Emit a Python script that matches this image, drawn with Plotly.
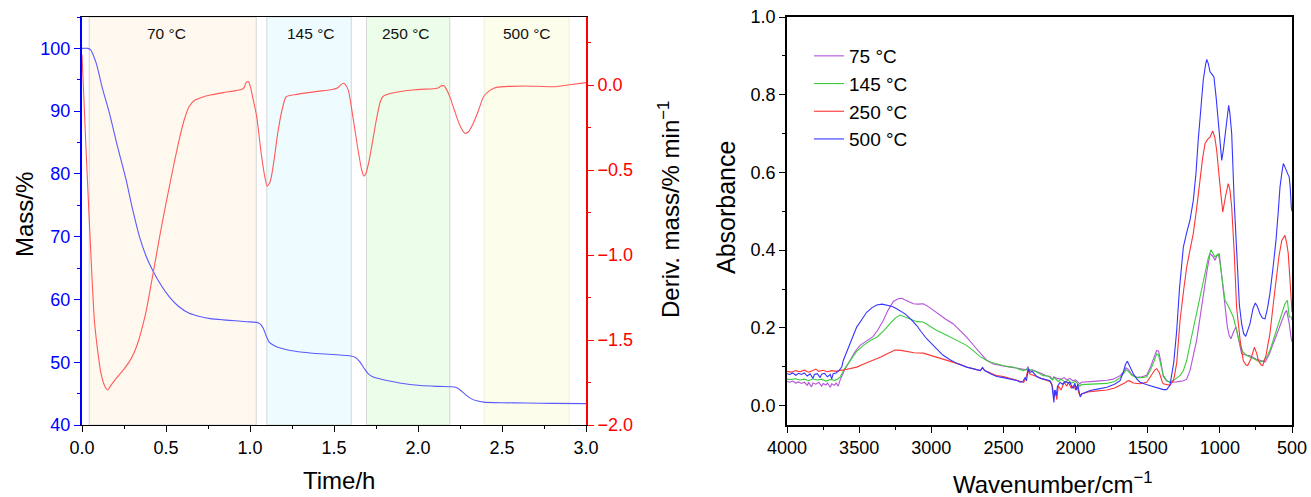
import plotly.graph_objects as go

# ---------------- TGA / DTG (left panel) ----------------
TIME_H = [0, 0.035, 0.05, 0.085, 0.12, 0.164, 0.21, 0.263, 0.30, 0.342, 0.38, 0.421, 0.47,
          0.52, 0.57, 0.638, 0.70, 0.764, 0.84, 0.914, 0.98, 1.04, 1.06, 1.077, 1.095, 1.114,
          1.14, 1.165, 1.22, 1.315, 1.42, 1.515, 1.6, 1.625, 1.653, 1.68, 1.703, 1.73, 1.766,
          1.83, 1.89, 2.016, 2.12, 2.216, 2.235, 2.254, 2.285, 2.316, 2.35, 2.39, 2.5, 2.642,
          2.8, 3.0]
MASS_PCT = [100, 100, 99.8, 97.6, 93.8, 89.6, 84.5, 79.0, 74.5, 70.0, 67.0, 64.6, 62.3,
            60.4, 59.0, 57.8, 57.3, 56.95, 56.75, 56.6, 56.45, 56.35, 56.1, 55.5, 54.3, 53.2,
            52.7, 52.4, 52.0, 51.6, 51.35, 51.2, 51.0, 50.8, 50.1, 49.0, 48.2, 47.7, 47.4,
            47.0, 46.7, 46.3, 46.15, 46.05, 45.9, 45.5, 44.8, 44.2, 43.85, 43.65, 43.55, 43.5,
            43.45, 43.4]

DTG_TIME_H = [0, 0.01, 0.025, 0.046, 0.075, 0.11, 0.135, 0.154, 0.17, 0.2, 0.243, 0.28,
              0.31, 0.338, 0.36, 0.382, 0.41, 0.441, 0.47, 0.50, 0.54, 0.579, 0.61, 0.638, 0.67,
              0.72, 0.764, 0.84, 0.914, 0.952, 0.965, 0.977, 0.99, 1.002, 1.02, 1.04, 1.069,
              1.09, 1.102, 1.115, 1.127, 1.145, 1.165, 1.19, 1.215, 1.265, 1.39, 1.49, 1.52,
              1.54, 1.555, 1.565, 1.585, 1.603, 1.64, 1.665, 1.678, 1.69, 1.71, 1.73, 1.753,
              1.775, 1.79, 1.84, 1.966, 2.09, 2.12, 2.136, 2.155, 2.166, 2.19, 2.216, 2.25,
              2.279, 2.3, 2.329, 2.36, 2.39, 2.43, 2.467, 2.55, 2.642, 2.817, 2.89, 3.0]
DTG_RATE = [0.18, -0.05, -0.4, -0.853, -1.40, -1.68, -1.77, -1.794, -1.77, -1.73, -1.68,
            -1.63, -1.575, -1.50, -1.42, -1.33, -1.18, -1.01, -0.85, -0.696, -0.5, -0.32,
            -0.2, -0.127, -0.09, -0.07, -0.059, -0.045, -0.033, -0.025, -0.015, 0.015, 0.02,
            -0.01, -0.09, -0.186, -0.42, -0.55, -0.595, -0.58, -0.54, -0.43, -0.284, -0.15,
            -0.069, -0.057, -0.039, -0.026, -0.018, 0.0, 0.01, 0.005, -0.03, -0.127, -0.363,
            -0.5, -0.535, -0.52, -0.44, -0.33, -0.2, -0.1, -0.069, -0.049, -0.029, -0.022,
            -0.018, -0.006, -0.005, -0.02, -0.07, -0.147, -0.24, -0.284, -0.275, -0.225,
            -0.15, -0.069, -0.03, -0.014, -0.008, -0.006, -0.01, 0.0, 0.014]

# isothermal holding windows
STAGE_LABELS = ["70 °C", "145 °C", "250 °C", "500 °C"]
STAGE_START = [0.043, 1.10, 1.693, 2.394]
STAGE_END = [1.037, 1.603, 2.189, 2.90]
STAGE_LABEL_X = [0.50, 1.365, 1.93, 2.65]
STAGE_FILL = ["#fff8ee", "#eefcff", "#ecfde9", "#fdfdec"]
STAGE_EDGE = ["#d4d4d4", "#d4d8da", "#d0d8d0", "#f0f0dc"]

# ---------------- FTIR spectra (right panel) ----------------
WN_75 = [4000, 3980, 3960, 3940, 3920, 3900, 3880, 3860, 3850, 3830, 3820, 3800, 3780, 3760,
         3750, 3730, 3720, 3700, 3690, 3670, 3660, 3645, 3630, 3600, 3563, 3530, 3494, 3450,
         3402, 3370, 3333, 3300, 3263, 3230, 3205, 3170, 3124, 3090, 3055, 3010, 2962, 2900,
         2847, 2800, 2755, 2700, 2662, 2620, 2570, 2500, 2455, 2400, 2362, 2340, 2330, 2320,
         2300, 2270, 2240, 2200, 2177, 2160, 2150, 2130, 2100, 2080, 2060, 2040, 2020, 2000,
         1985, 1970, 1960, 1900, 1850, 1784, 1740, 1692, 1665, 1650, 1635, 1610, 1577, 1540,
         1507, 1480, 1455, 1438, 1425, 1410, 1392, 1370, 1346, 1300, 1253, 1230, 1207, 1185,
         1161, 1138, 1115, 1090, 1068, 1050, 1034, 1020, 1004, 990, 976, 960, 948, 935, 923,
         905, 888, 870, 849, 820, 791, 750, 722, 700, 687, 660, 630, 600, 571, 550, 537, 525,
         519, 510, 502]
A_75 = [0.062, 0.060, 0.063, 0.058, 0.061, 0.057, 0.060, 0.052, 0.059, 0.048, 0.058, 0.055,
        0.060, 0.050, 0.057, 0.053, 0.058, 0.047, 0.056, 0.052, 0.058, 0.050, 0.068, 0.092,
        0.116, 0.138, 0.155, 0.166, 0.178, 0.195, 0.219, 0.245, 0.268, 0.275, 0.276, 0.270,
        0.262, 0.261, 0.262, 0.252, 0.238, 0.222, 0.210, 0.192, 0.176, 0.152, 0.137, 0.118,
        0.107, 0.101, 0.099, 0.096, 0.094, 0.092, 0.100, 0.090, 0.092, 0.088, 0.083, 0.076,
        0.075, 0.068, 0.074, 0.070, 0.068, 0.072, 0.066, 0.070, 0.064, 0.066, 0.060, 0.056,
        0.060, 0.061, 0.063, 0.065, 0.068, 0.077, 0.088, 0.097, 0.093, 0.080, 0.073, 0.074,
        0.078, 0.100, 0.128, 0.142, 0.140, 0.115, 0.075, 0.064, 0.060, 0.061, 0.064, 0.068,
        0.090, 0.125, 0.168, 0.225, 0.288, 0.345, 0.391, 0.385, 0.374, 0.385, 0.391, 0.345,
        0.288, 0.240, 0.202, 0.180, 0.172, 0.190, 0.202, 0.170, 0.133, 0.130, 0.128, 0.120,
        0.116, 0.112, 0.112, 0.130, 0.159, 0.190, 0.219, 0.238, 0.245, 0.225, 0.211, 0.185,
        0.165]

WN_145 = [4000, 3970, 3940, 3910, 3880, 3850, 3820, 3790, 3760, 3730, 3700, 3670, 3650, 3633,
          3600, 3563, 3520, 3471, 3420, 3378, 3330, 3286, 3250, 3217, 3180, 3147, 3100, 3055,
          3010, 2962, 2900, 2847, 2800, 2755, 2700, 2662, 2600, 2547, 2490, 2432, 2362, 2330,
          2316, 2280, 2224, 2190, 2160, 2150, 2120, 2100, 2070, 2050, 2030, 2000, 1985, 1970,
          1960, 1900, 1850, 1784, 1730, 1692, 1665, 1650, 1635, 1610, 1577, 1540, 1507, 1480,
          1455, 1438, 1425, 1410, 1392, 1370, 1346, 1310, 1276, 1253, 1230, 1200, 1161, 1130,
          1103, 1080, 1061, 1045, 1034, 1020, 1011, 1000, 987, 975, 964, 940, 907, 885, 861,
          840, 814, 768, 722, 700, 676, 650, 630, 600, 583, 560, 549, 532, 519, 505, 500]
A_145 = [0.068, 0.067, 0.069, 0.066, 0.068, 0.064, 0.069, 0.066, 0.068, 0.063, 0.067, 0.065,
         0.068, 0.073, 0.095, 0.116, 0.138, 0.155, 0.168, 0.176, 0.192, 0.211, 0.225, 0.233,
         0.228, 0.222, 0.216, 0.215, 0.205, 0.193, 0.182, 0.172, 0.164, 0.155, 0.138, 0.126,
         0.113, 0.107, 0.102, 0.099, 0.090, 0.095, 0.092, 0.088, 0.077, 0.076, 0.066, 0.072,
         0.062, 0.068, 0.060, 0.066, 0.058, 0.062, 0.055, 0.050, 0.054, 0.055, 0.056, 0.057,
         0.062, 0.072, 0.084, 0.092, 0.088, 0.078, 0.072, 0.072, 0.074, 0.092, 0.115, 0.133,
         0.130, 0.105, 0.078, 0.065, 0.060, 0.068, 0.077, 0.090, 0.116, 0.170, 0.236, 0.290,
         0.339, 0.380, 0.401, 0.390, 0.382, 0.388, 0.391, 0.370, 0.339, 0.300, 0.271, 0.255,
         0.228, 0.195, 0.159, 0.138, 0.129, 0.121, 0.112, 0.115, 0.124, 0.145, 0.168, 0.200,
         0.219, 0.245, 0.262, 0.271, 0.228, 0.228, 0.220]

WN_250 = [4000, 3970, 3940, 3910, 3880, 3850, 3820, 3800, 3780, 3750, 3720, 3690, 3660, 3640,
          3600, 3560, 3517, 3460, 3402, 3350, 3309, 3270, 3251, 3210, 3170, 3120, 3055, 3010,
          2962, 2920, 2870, 2800, 2755, 2700, 2660, 2645, 2630, 2600, 2547, 2500, 2455, 2400,
          2385, 2360, 2345, 2330, 2320, 2300, 2270, 2240, 2200, 2177, 2160, 2150, 2140, 2130,
          2120, 2100, 2080, 2060, 2050, 2030, 2010, 2000, 1990, 1975, 1965, 1958, 1900, 1850,
          1784, 1730, 1692, 1660, 1640, 1628, 1600, 1553, 1507, 1470, 1450, 1438, 1420, 1400,
          1392, 1346, 1320, 1299, 1276, 1250, 1230, 1207, 1184, 1160, 1138, 1120, 1103, 1085,
          1068, 1050, 1035, 1022, 1000, 980, 960, 942, 930, 918, 900, 884, 860, 838, 820, 807,
          785, 761, 745, 733, 715, 703, 680, 653, 630, 606, 590, 571, 549, 535, 526, 515, 505,
          500]
A_250 = [0.088, 0.086, 0.090, 0.087, 0.091, 0.086, 0.090, 0.094, 0.088, 0.091, 0.087, 0.090,
         0.088, 0.090, 0.092, 0.096, 0.099, 0.108, 0.116, 0.125, 0.133, 0.140, 0.143, 0.142,
         0.140, 0.136, 0.135, 0.130, 0.123, 0.118, 0.114, 0.106, 0.099, 0.093, 0.090, 0.097,
         0.090, 0.086, 0.077, 0.075, 0.070, 0.064, 0.062, 0.060, 0.070, 0.092, 0.082, 0.080,
         0.075, 0.070, 0.064, 0.062, 0.050, 0.020, 0.040, 0.015, 0.050, 0.040, 0.060, 0.050,
         0.060, 0.045, 0.052, 0.040, 0.050, 0.030, 0.025, 0.030, 0.036, 0.038, 0.040, 0.045,
         0.051, 0.058, 0.063, 0.064, 0.058, 0.056, 0.060, 0.080, 0.092, 0.095, 0.085, 0.062,
         0.056, 0.052, 0.066, 0.110, 0.219, 0.300, 0.356, 0.400, 0.443, 0.510, 0.580, 0.635,
         0.674, 0.685, 0.691, 0.707, 0.690, 0.657, 0.570, 0.498, 0.540, 0.571, 0.555, 0.511,
         0.390, 0.253, 0.170, 0.116, 0.105, 0.103, 0.120, 0.150, 0.135, 0.116, 0.105, 0.103,
         0.130, 0.185, 0.260, 0.339, 0.385, 0.425, 0.438, 0.415, 0.391, 0.330, 0.253, 0.240]

WN_500 = [4000, 3980, 3960, 3940, 3920, 3900, 3880, 3860, 3840, 3820, 3810, 3790, 3770, 3760,
          3740, 3720, 3700, 3690, 3680, 3660, 3640, 3620, 3610, 3585, 3563, 3540, 3517, 3480,
          3448, 3410, 3378, 3340, 3309, 3270, 3240, 3182, 3140, 3101, 3070, 3032, 3000, 2962,
          2920, 2870, 2820, 2755, 2700, 2660, 2645, 2630, 2590, 2547, 2500, 2455, 2400, 2385,
          2365, 2350, 2340, 2328, 2315, 2300, 2270, 2240, 2200, 2177, 2165, 2155, 2150, 2145,
          2135, 2125, 2108, 2090, 2070, 2050, 2039, 2025, 2016, 2005, 1995, 1985, 1975, 1968,
          1958, 1900, 1840, 1784, 1730, 1692, 1670, 1655, 1641, 1625, 1600, 1575, 1553, 1510,
          1461, 1420, 1392, 1369, 1346, 1320, 1299, 1280, 1253, 1230, 1207, 1184, 1165, 1150,
          1130, 1115, 1100, 1091, 1080, 1068, 1055, 1041, 1025, 1011, 998, 987, 975, 957, 946,
          939, 930, 918, 900, 879, 865, 849, 835, 821, 805, 791, 770, 754, 740, 722, 705, 687,
          670, 653, 630, 611, 595, 583, 570, 560, 550, 537, 528, 519, 512, 505, 500]
A_500 = [0.082, 0.080, 0.084, 0.078, 0.083, 0.080, 0.084, 0.076, 0.082, 0.070, 0.080, 0.082,
         0.072, 0.081, 0.083, 0.074, 0.080, 0.068, 0.082, 0.084, 0.090, 0.100, 0.116, 0.138,
         0.159, 0.180, 0.202, 0.222, 0.240, 0.252, 0.259, 0.261, 0.259, 0.255, 0.249, 0.236,
         0.222, 0.206, 0.190, 0.172, 0.160, 0.146, 0.130, 0.118, 0.108, 0.099, 0.093, 0.090,
         0.098, 0.090, 0.082, 0.075, 0.072, 0.069, 0.064, 0.060, 0.062, 0.072, 0.064, 0.095,
         0.085, 0.088, 0.075, 0.070, 0.066, 0.064, 0.055, 0.030, 0.008, 0.040, 0.025, 0.050,
         0.060, 0.055, 0.062, 0.058, 0.060, 0.048, 0.044, 0.058, 0.040, 0.055, 0.030, 0.022,
         0.030, 0.039, 0.043, 0.047, 0.055, 0.064, 0.085, 0.105, 0.114, 0.100, 0.082, 0.068,
         0.060, 0.054, 0.049, 0.045, 0.041, 0.041, 0.052, 0.110, 0.193, 0.300, 0.408, 0.445,
         0.477, 0.528, 0.600, 0.683, 0.770, 0.838, 0.875, 0.891, 0.880, 0.859, 0.853, 0.846,
         0.790, 0.726, 0.660, 0.631, 0.660, 0.726, 0.760, 0.773, 0.750, 0.700, 0.520, 0.339,
         0.260, 0.211, 0.185, 0.178, 0.195, 0.211, 0.250, 0.264, 0.255, 0.236, 0.225, 0.223,
         0.250, 0.288, 0.360, 0.425, 0.500, 0.563, 0.600, 0.623, 0.615, 0.600, 0.595, 0.588,
         0.560, 0.511, 0.500]

SPECTRA = [
    ("75 °C", WN_75, A_75, "#b452dc"),
    ("145 °C", WN_145, A_145, "#3ccc3c"),
    ("250 °C", WN_250, A_250, "#ff3535"),
    ("500 °C", WN_500, A_500, "#3535ff"),
]

assert len(TIME_H) == len(MASS_PCT)
assert len(DTG_TIME_H) == len(DTG_RATE)
for _name, _wn, _a, _c in SPECTRA:
    assert len(_wn) == len(_a), _name

# ---------------- figure ----------------
W, H = 1311, 497
FONT = "Liberation Sans, Arial, Helvetica, sans-serif"


def fx(px):
    return px / W


def fy(py):
    return 1 - py / H


PLOT_TOP, PLOT_BOTTOM = 17, 425
LEFT_X0, LEFT_X1 = 82, 586
RIGHT_X0, RIGHT_X1 = 787, 1292
Y_DOMAIN = [fy(PLOT_BOTTOM), fy(PLOT_TOP)]

fig = go.Figure()

fig.add_trace(go.Scatter(x=DTG_TIME_H, y=DTG_RATE, mode="lines", xaxis="x", yaxis="y2",
                         line=dict(color="#ff5a5a", width=1.1, shape="spline", smoothing=0.6),
                         showlegend=False, hoverinfo="skip"))
fig.add_trace(go.Scatter(x=TIME_H, y=MASS_PCT, mode="lines", xaxis="x", yaxis="y",
                         line=dict(color="#5a5aff", width=1.1, shape="spline", smoothing=0.6),
                         showlegend=False, hoverinfo="skip"))

for name, wn, a, color in SPECTRA:
    fig.add_trace(go.Scatter(x=wn, y=a, mode="lines", name=name, xaxis="x2", yaxis="y3",
                             line=dict(color=color, width=1.1), hoverinfo="skip"))

# shaded holding stages with their temperature labels
shapes = []
annotations = []
for lab, x0, x1, lx, fill, edge in zip(STAGE_LABELS, STAGE_START, STAGE_END, STAGE_LABEL_X,
                                       STAGE_FILL, STAGE_EDGE):
    shapes.append(dict(type="rect", xref="x", yref="y domain", x0=x0, x1=x1, y0=0, y1=1,
                       fillcolor=fill, line=dict(color=edge, width=1), layer="below"))
    annotations.append(dict(text=lab, x=lx, y=102.3, xref="x", yref="y", showarrow=False,
                            font=dict(size=15.5, color="#111111", family=FONT),
                            xanchor="center", yanchor="middle"))

# axis titles
title_font = dict(size=24, color="black", family=FONT)
axis_titles = [
    dict(text="Mass/%", x=fx(24), y=fy(215), textangle=-90),
    dict(text="Time/h", x=fx(339), y=fy(480)),
    dict(text="Deriv. mass/% min<sup>−1</sup>", x=fx(669), y=fy(210), textangle=-90),
    dict(text="Absorbance", x=fx(726), y=fy(208), textangle=-90,
         font=dict(size=25, color="black", family=FONT)),
    dict(text="Wavenumber/cm<sup>−1</sup>", x=fx(1053), y=fy(483)),
]
for ann in axis_titles:
    ann.setdefault("font", title_font)
    ann.update(xref="paper", yref="paper", showarrow=False,
               xanchor="center", yanchor="middle")
annotations += axis_titles

tick_font = dict(size=18, family=FONT, color="black")
common = dict(showgrid=False, zeroline=False, ticks="outside", tickwidth=1.3, ticklen=6,
              showline=True, automargin=False)

fig.update_layout(
    width=W, height=H,
    margin=dict(l=0, r=0, t=0, b=0),
    paper_bgcolor="white", plot_bgcolor="white",
    font=dict(family=FONT),
    shapes=shapes,
    annotations=annotations,
    showlegend=True,
    legend=dict(x=fx(809), y=fy(37), xanchor="left", yanchor="top",
                font=dict(size=19, family=FONT, color="black"),
                bgcolor="rgba(0,0,0,0)", borderwidth=0, tracegroupgap=0,
                itemwidth=30),
    xaxis=dict(domain=[fx(LEFT_X0), fx(LEFT_X1)], range=[0, 3], anchor="y",
               tick0=0, dtick=0.5, tickformat=".1f", tickfont=tick_font,
               linecolor="black", linewidth=1.3, tickcolor="black", mirror=True,
               minor=dict(dtick=0.25, ticklen=3, ticks="outside", tickcolor="black",
                          tickwidth=1.3),
               **common),
    yaxis=dict(domain=Y_DOMAIN, range=[40, 105], anchor="x",
               tick0=40, dtick=10, tickfont=dict(size=18, family=FONT, color="#0000ff"),
               linecolor="#0000ff", linewidth=2, tickcolor="#0000ff",
               minor=dict(dtick=5, tick0=40, ticklen=3, ticks="outside", tickcolor="#0000ff",
                          tickwidth=1.3),
               **common),
    yaxis2=dict(domain=Y_DOMAIN, range=[-2.0, 0.4], overlaying="y", side="right",
                anchor="x", tick0=-2.0, dtick=0.5, tickformat=".1f",
                tickfont=dict(size=18, family=FONT, color="#ff0000"),
                linecolor="#ff0000", linewidth=2, tickcolor="#ff0000",
                minor=dict(dtick=0.25, tick0=-2.0, ticklen=3, ticks="outside",
                           tickcolor="#ff0000", tickwidth=1.3),
                **common),
    xaxis2=dict(domain=[fx(RIGHT_X0), fx(RIGHT_X1)], range=[4000, 500], anchor="y3",
                tick0=500, dtick=500, tickfont=tick_font,
                linecolor="black", linewidth=1.5, tickcolor="black", mirror=True,
                minor=dict(dtick=250, ticklen=3, ticks="outside", tickcolor="black",
                           tickwidth=1.3),
                **common),
    yaxis3=dict(domain=Y_DOMAIN, range=[-0.05, 1.0], anchor="x2",
                tick0=0, dtick=0.2, tickformat=".1f", tickfont=tick_font,
                linecolor="black", linewidth=1.5, tickcolor="black", mirror=True,
                minor=dict(dtick=0.1, tick0=0, ticklen=3, ticks="outside",
                           tickcolor="black", tickwidth=1.3),
                **common),
)

fig.write_html("out.html")
